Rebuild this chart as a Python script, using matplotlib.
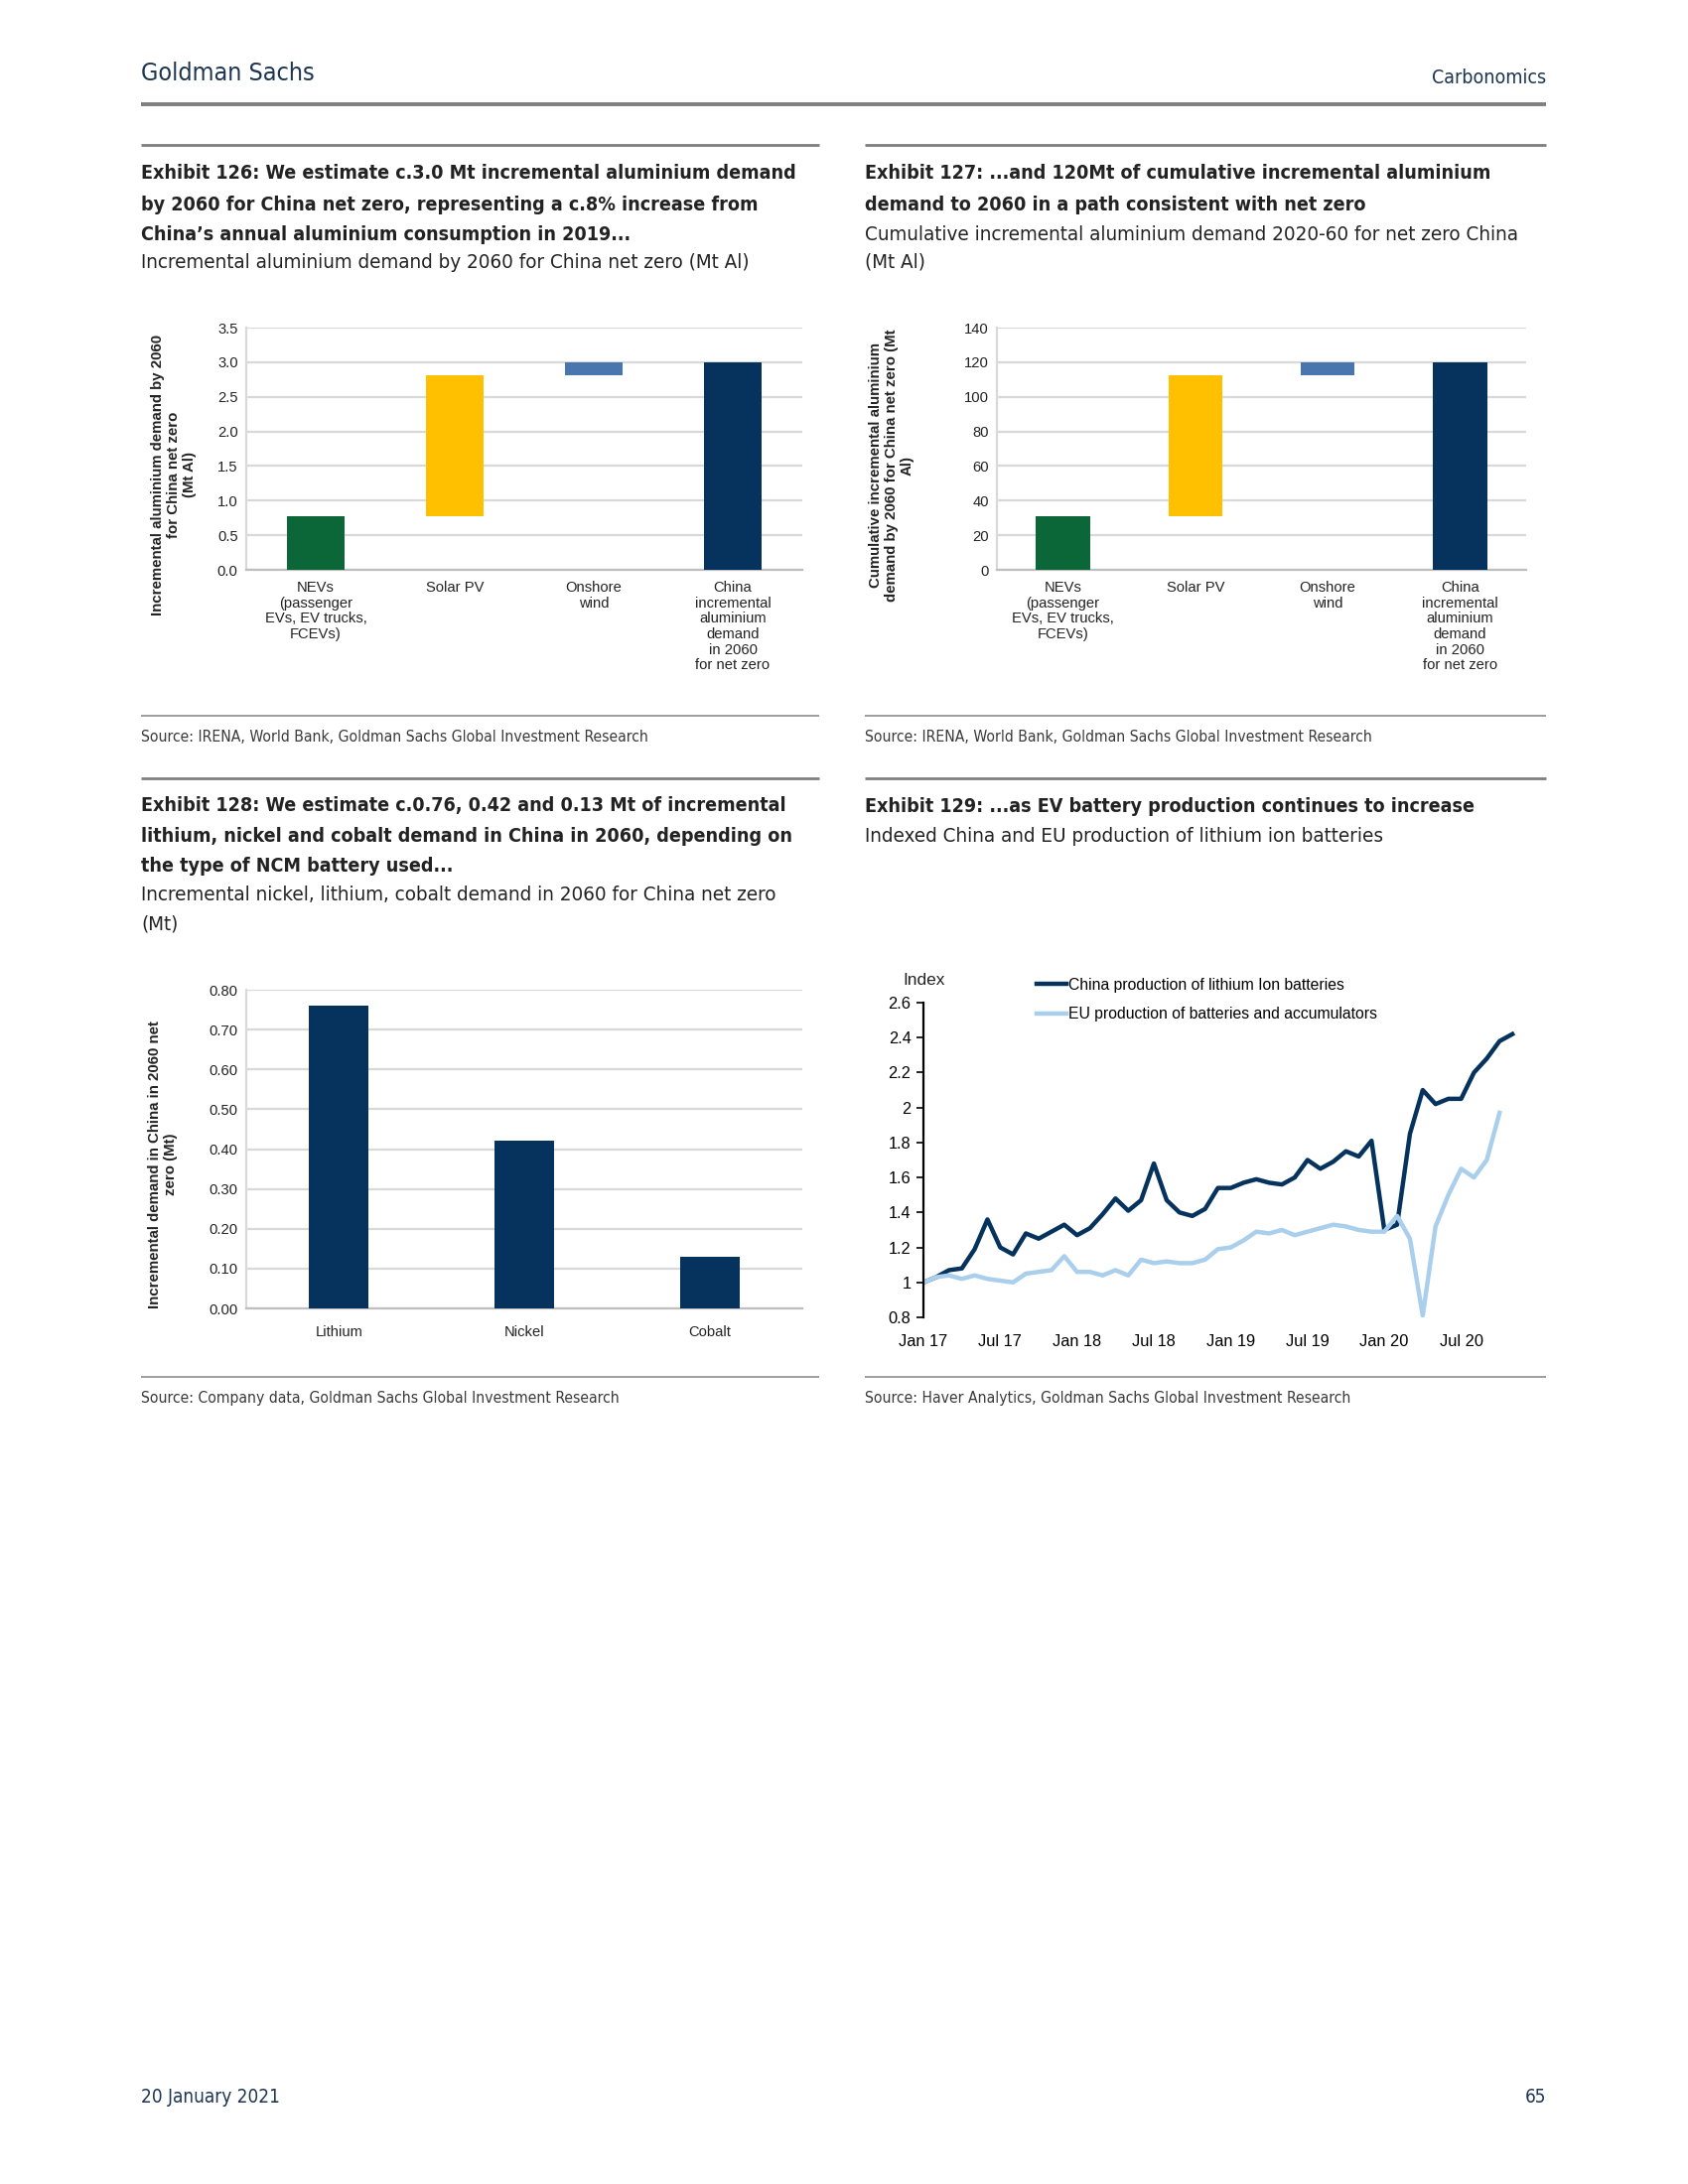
import matplotlib
matplotlib.use("Agg")
import matplotlib.pyplot as plt
from matplotlib.lines import Line2D
from matplotlib import font_manager as fm
import numpy as np

# ---------------- data ----------------
alu_categories = ["NEVs\n(passenger\nEVs, EV trucks,\nFCEVs)", "Solar PV", "Onshore\nwind",
                  "China\nincremental\naluminium\ndemand\nin 2060\nfor net zero"]
alu_2060_increments = [0.78, 2.03, 0.19]      # Mt Al
alu_2060_total = 3.0
alu_cum_increments = [31.0, 81.5, 7.5]        # Mt Al
alu_cum_total = 120.0

metals = ["Lithium", "Nickel", "Cobalt"]
metal_demand = [0.76, 0.42, 0.13]             # Mt

month_tick_labels = ["Jan 17", "Jul 17", "Jan 18", "Jul 18", "Jan 19", "Jul 19", "Jan 20", "Jul 20"]
china_index = [1.00, 1.03, 1.07, 1.08, 1.19, 1.36, 1.20, 1.16, 1.28, 1.25, 1.29, 1.33,
               1.27, 1.31, 1.39, 1.48, 1.41, 1.47, 1.68, 1.47, 1.40, 1.38, 1.42, 1.54,
               1.54, 1.57, 1.59, 1.57, 1.56, 1.60, 1.70, 1.65, 1.69, 1.75, 1.72, 1.81,
               1.30, 1.33, 1.85, 2.10, 2.02, 2.05, 2.05, 2.20, 2.28, 2.38, 2.42]
eu_index = [1.00, 1.03, 1.04, 1.02, 1.04, 1.02, 1.01, 1.00, 1.05, 1.06, 1.07, 1.15,
            1.06, 1.06, 1.04, 1.07, 1.04, 1.13, 1.11, 1.12, 1.11, 1.11, 1.13, 1.19,
            1.20, 1.24, 1.29, 1.28, 1.30, 1.27, 1.29, 1.31, 1.33, 1.32, 1.30, 1.29,
            1.29, 1.38, 1.25, 0.81, 1.32, 1.50, 1.65, 1.60, 1.70, 1.97]

# ---------------- styling ----------------
GREEN = "#0B6638"
YELLOW = "#FFC000"
STEEL = "#4A76B0"
NAVY = "#05335E"
LIGHT = "#A9CFEC"
GRID = "#D9D9D9"
TXT = "#222222"
HEAD = "#1C3550"

ARIAL = ["Liberation Sans", "DejaVu Sans"]
plt.rcParams["font.family"] = ARIAL

# pick the narrowest available sans family for the report's condensed typeface
_fonts = fm.fontManager.ttflist
_names = {f.name for f in _fonts}
if "Liberation Sans Narrow" in _names:
    COND_PROPS = dict(family=["Liberation Sans Narrow", "DejaVu Sans"])
elif any(f.name == "DejaVu Sans" and f.stretch in ("condensed", "semi-condensed") for f in _fonts):
    COND_PROPS = dict(family=["DejaVu Sans"], fontstretch="condensed")
else:
    COND_PROPS = dict(family=ARIAL)

W, H = 1700, 2200
fig = plt.figure(figsize=(8.5, 11), dpi=200)
renderer = fig.canvas.get_renderer()


def fx(x):
    return x / W


def fy(y):
    return 1 - y / H


def rect(l, t, r, b):
    return [fx(l), fy(b), (r - l) / W, (b - t) / H]


def hline(x0, x1, y, lw, color):
    fig.add_artist(Line2D([fx(x0), fx(x1)], [fy(y), fy(y)], transform=fig.transFigure,
                          lw=lw, color=color, solid_capstyle="butt"))


def fit_size(s, target_px, weight="normal", cap=None):
    t = fig.text(0, 0, s, fontsize=10, fontweight=weight, **COND_PROPS)
    w = t.get_window_extent(renderer).width
    t.remove()
    size = 10 * target_px / w
    return min(size, cap) if cap else size


def ftext(x, y, s, size, weight="normal", ha="left", color=TXT, props=None, **kw):
    p = COND_PROPS if props is None else props
    fig.text(fx(x), fy(y), s, fontsize=size, fontweight=weight, ha=ha, va="center",
             color=color, **p, **kw)


TSIZE = fit_size("Exhibit 126: We estimate c.3.0 Mt incremental aluminium demand", 659, "bold", cap=9.5)
SSIZE = fit_size("Incremental aluminium demand by 2060 for China net zero (Mt Al)", 613, cap=9.0)
SRC = fit_size("Source: IRENA, World Bank, Goldman Sachs Global Investment Research", 512, cap=7.5)
GS = fit_size("Goldman Sachs", 175, cap=11.5)
CARB = fit_size("Carbonomics", 115, cap=9.5)
FOOT = fit_size("20 January 2021", 140, cap=9.5)

# ---------------- page header / footer ----------------
ftext(142, 74, "Goldman Sachs", GS, color=HEAD)
ftext(1557, 79, "Carbonomics", CARB, ha="right", color=HEAD)
hline(142, 1557, 105, 1.4, "#7F7F7F")
ftext(142, 2112, "20 January 2021", FOOT, color=HEAD)
ftext(1557, 2112, "65", FOOT, ha="right", color=HEAD)

# ---------------- exhibit titles ----------------
LX, RX = 142, 871
LR, RR = 825, 1557

hline(LX, LR, 146, 1.0, "#7F7F7F")
hline(RX, RR, 146, 1.0, "#7F7F7F")
for y, s in zip([175, 206, 236], ["Exhibit 126: We estimate c.3.0 Mt incremental aluminium demand",
                                  "by 2060 for China net zero, representing a c.8% increase from",
                                  "China\u2019s annual aluminium consumption in 2019..."]):
    ftext(LX, y, s, TSIZE, weight="bold")
ftext(LX, 265, "Incremental aluminium demand by 2060 for China net zero (Mt Al)", SSIZE)

for y, s in zip([175, 206], ["Exhibit 127: ...and 120Mt of cumulative incremental aluminium",
                             "demand to 2060 in a path consistent with net zero"]):
    ftext(RX, y, s, TSIZE, weight="bold")
ftext(RX, 236, "Cumulative incremental aluminium demand 2020-60 for net zero China", SSIZE)
ftext(RX, 264, "(Mt Al)", SSIZE)

hline(LX, LR, 721, 0.6, "#8C8C8C")
hline(RX, RR, 721, 0.6, "#8C8C8C")
ftext(LX, 743, "Source: IRENA, World Bank, Goldman Sachs Global Investment Research", SRC, color="#3A3A3A")
ftext(RX, 743, "Source: IRENA, World Bank, Goldman Sachs Global Investment Research", SRC, color="#3A3A3A")

hline(LX, LR, 784, 1.0, "#7F7F7F")
hline(RX, RR, 784, 1.0, "#7F7F7F")
for y, s in zip([812, 842, 872], ["Exhibit 128: We estimate c.0.76, 0.42 and 0.13 Mt of incremental",
                                  "lithium, nickel and cobalt demand in China in 2060, depending on",
                                  "the type of NCM battery used..."]):
    ftext(LX, y, s, TSIZE, weight="bold")
ftext(LX, 902, "Incremental nickel, lithium, cobalt demand in 2060 for China net zero", SSIZE)
ftext(LX, 931, "(Mt)", SSIZE)

ftext(RX, 812, "Exhibit 129: ...as EV battery production continues to increase", TSIZE, weight="bold")
ftext(RX, 842, "Indexed China and EU production of lithium ion batteries", SSIZE)

hline(LX, LR, 1387, 0.6, "#8C8C8C")
hline(RX, RR, 1387, 0.6, "#8C8C8C")
ftext(LX, 1408, "Source: Company data, Goldman Sachs Global Investment Research", SRC, color="#3A3A3A")
ftext(RX, 1408, "Source: Haver Analytics, Goldman Sachs Global Investment Research", SRC, color="#3A3A3A")

TICK = 5.3
ARIAL_PROPS = dict(family=ARIAL)


def style_bar_axes(ax):
    for side in ["top", "right"]:
        ax.spines[side].set_visible(False)
    ax.spines["left"].set_color(GRID)
    ax.spines["bottom"].set_color("#BFBFBF")
    ax.spines["left"].set_linewidth(0.8)
    ax.spines["bottom"].set_linewidth(0.8)
    ax.yaxis.grid(True, color=GRID, lw=0.8)
    ax.set_axisbelow(True)
    ax.tick_params(axis="both", length=0, labelsize=TICK, colors="#222222", pad=3)


def waterfall(ax, increments, total, ymax, step, fmt, width):
    bottoms = np.concatenate([[0], np.cumsum(increments)[:-1]])
    xs = np.arange(len(increments) + 1)
    ax.bar(xs[:-1], increments, bottom=bottoms, width=width,
           color=[GREEN, YELLOW, STEEL][:len(increments)], zorder=3)
    ax.bar(xs[-1], total, width=width, color=NAVY, zorder=3)
    ax.set_xlim(-0.5, len(xs) - 0.5)
    ax.set_ylim(0, ymax)
    ax.set_yticks(np.arange(0, ymax + step / 2, step))
    ax.yaxis.set_major_formatter(plt.FormatStrFormatter(fmt))
    ax.set_xticks(xs)
    ax.set_xticklabels(alu_categories, linespacing=1.15, va="top")
    style_bar_axes(ax)
    ax.tick_params(axis="x", pad=4)


# ---------------- Exhibit 126 ----------------
ax1 = fig.add_axes(rect(248, 330, 808, 574))
waterfall(ax1, alu_2060_increments, alu_2060_total, 3.5, 0.5, "%.1f", 0.42)
ftext(175, 478, "Incremental aluminium demand by 2060\nfor China net zero\n(Mt Al)", 5.4,
      weight="bold", ha="center", props=ARIAL_PROPS, rotation=90, linespacing=1.15)

# ---------------- Exhibit 127 ----------------
ax2 = fig.add_axes(rect(1004, 330, 1537, 574))
waterfall(ax2, alu_cum_increments, alu_cum_total, 140, 20, "%d", 0.41)
ftext(898, 469, "Cumulative incremental aluminium\ndemand by 2060 for China net zero (Mt\nAl)", 5.4,
      weight="bold", ha="center", props=ARIAL_PROPS, rotation=90, linespacing=1.15)

# ---------------- Exhibit 128 ----------------
ax3 = fig.add_axes(rect(248, 997, 808, 1318))
ax3.bar(np.arange(len(metals)), metal_demand, width=0.32, color=NAVY, zorder=3)
ax3.set_xlim(-0.5, len(metals) - 0.5)
ax3.set_ylim(0, 0.8)
ax3.set_yticks(np.arange(0, 0.81, 0.1))
ax3.yaxis.set_major_formatter(plt.FormatStrFormatter("%.2f"))
ax3.set_xticks(np.arange(len(metals)))
ax3.set_xticklabels(metals)
style_bar_axes(ax3)
ax3.tick_params(axis="x", pad=6)
ftext(164, 1173, "Incremental demand in China in 2060 net\nzero (Mt)", 5.4,
      weight="bold", ha="center", props=ARIAL_PROPS, rotation=90, linespacing=1.15)

# ---------------- Exhibit 129 ----------------
ax4 = fig.add_axes(rect(930, 1010, 1536, 1327))
ax4.plot(np.arange(len(china_index)), china_index, color=NAVY, lw=1.6,
         label="China production of lithium Ion batteries", solid_joinstyle="round")
ax4.plot(np.arange(len(eu_index)), eu_index, color=LIGHT, lw=1.6,
         label="EU production of batteries and accumulators", solid_joinstyle="round")
ax4.set_xlim(0, 47)
ax4.set_ylim(0.8, 2.6)
ax4.set_yticks(np.arange(0.8, 2.61, 0.2))
ax4.set_yticklabels(["%g" % round(v, 1) for v in np.arange(0.8, 2.61, 0.2)])
ax4.set_xticks(np.arange(0, 43, 6))
ax4.set_xticklabels(month_tick_labels)
for side in ["top", "right", "bottom"]:
    ax4.spines[side].set_visible(False)
ax4.spines["left"].set_color("black")
ax4.spines["left"].set_linewidth(0.8)
ax4.tick_params(axis="y", direction="out", length=2.5, width=0.6, labelsize=TICK + 0.6, pad=2)
ax4.tick_params(axis="x", length=0, labelsize=TICK + 0.6, pad=6)
leg = ax4.legend(loc="upper left", bbox_to_anchor=(fx(1044), fy(985)), bbox_transform=fig.transFigure,
                 frameon=False, fontsize=TICK + 0.4, handlelength=1.9, handletextpad=0.15,
                 labelspacing=0.9, borderaxespad=0, borderpad=0)
ftext(909, 987, "Index", TICK + 0.9, props=ARIAL_PROPS)

fig.savefig("out.png", dpi=200, facecolor="white")
